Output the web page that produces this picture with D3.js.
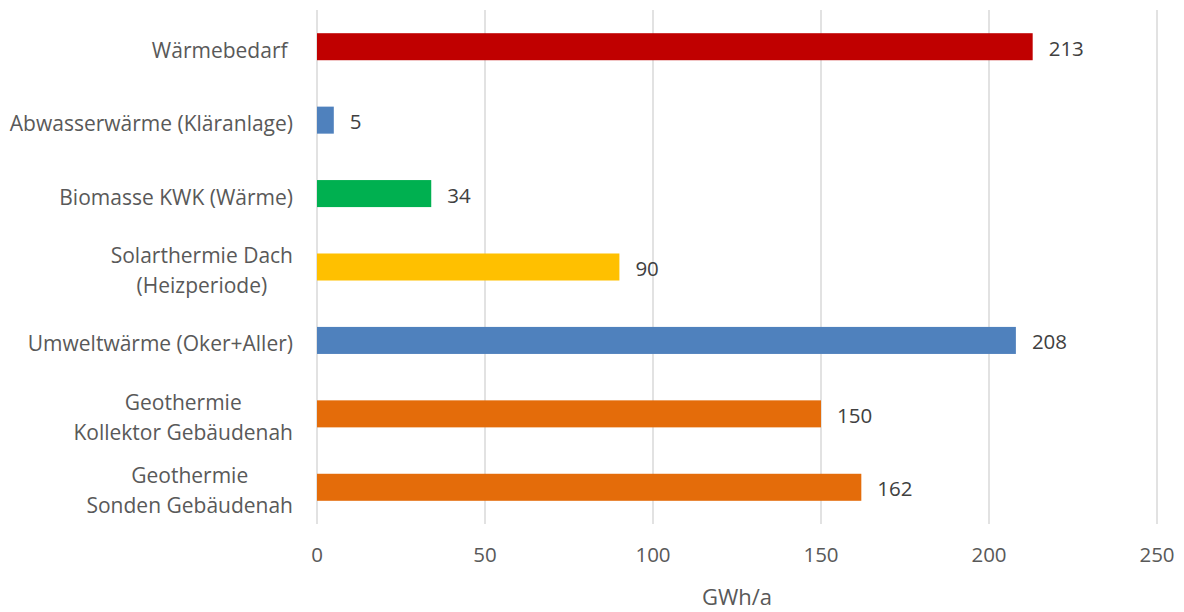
<!DOCTYPE html>
<html>
<head>
<meta charset="utf-8">
<script src="https://cdn.jsdelivr.net/npm/d3@7"></script>
<style>
  html, body { margin: 0; padding: 0; background: #fff; }
  svg { display: block; }
  text { font-family: "Open Sans", "Noto Sans", sans-serif; }
</style>
</head>
<body>
<svg id="chart" width="1184" height="612"></svg>
<script>
// Heat demand and potential heat sources (GWh/a)
const categories = [
  "Wärmebedarf ",
  "Abwasserwärme (Kläranlage)",
  "Biomasse KWK (Wärme)",
  "Solarthermie Dach\n(Heizperiode)",
  "Umweltwärme (Oker+Aller)",
  "Geothermie\nKollektor Gebäudenah",
  "Geothermie\nSonden Gebäudenah"
];
const values = [213, 5, 34, 90, 208, 150, 162];
const barColors = ["#C00000", "#4F81BD", "#00B050", "#FFC000", "#4F81BD", "#E46C0A", "#E46C0A"];
const xTicks = [0, 50, 100, 150, 200, 250];
const xTitle = "GWh/a";

const svg = d3.select("#chart");
const plot = { left: 317, right: 1157, top: 10, bottom: 524 };

const x = d3.scaleLinear().domain([0, 250]).range([plot.left, plot.right]);
const y = d3.scaleBand().domain(d3.range(categories.length))
  .range([plot.top, plot.bottom]).paddingInner(0.632).paddingOuter(0.316);

// vertical gridlines, extending slightly below the plot as tick marks
svg.append("g").selectAll("line").data(xTicks).join("line")
  .attr("x1", d => x(d)).attr("x2", d => x(d))
  .attr("y1", plot.top).attr("y2", plot.bottom)
  .attr("stroke", "#D9D9D9").attr("stroke-width", 1.5);

// bars
svg.append("g").selectAll("rect").data(values).join("rect")
  .attr("x", x(0))
  .attr("y", (d, i) => y(i))
  .attr("width", d => x(d) - x(0))
  .attr("height", y.bandwidth())
  .attr("fill", (d, i) => barColors[i]);

// value labels
svg.append("g").selectAll("text").data(values).join("text")
  .attr("x", d => x(d) + 16)
  .attr("y", (d, i) => y(i) + y.bandwidth() / 2 + 1)
  .attr("dominant-baseline", "central")
  .attr("font-size", 20.5)
  .attr("fill", "#404040")
  .text(d => d);

// category labels (some wrap onto two lines); trailing spaces are kept
const lineH = 30;
const catG = svg.append("g");
categories.forEach((c, i) => {
  const lines = c.split("\n");
  const cy = y(i) + y.bandwidth() / 2 + 3;
  const t = catG.append("text")
    .attr("text-anchor", "middle")
    .attr("font-size", 21)
    .style("white-space", "pre")
    .attr("fill", "#595959");
  lines.forEach((ln, k) => {
    t.append("tspan")
      .attr("y", cy + (k - (lines.length - 1) / 2) * lineH)
      .attr("dominant-baseline", "central")
      .text(ln);
  });
  // right-align block, with each line centred within it
  const widths = [];
  t.selectAll("tspan").each(function () { widths.push(this.getComputedTextLength()); });
  const maxW = d3.max(widths);
  const right = 293;
  t.selectAll("tspan").attr("x", right - maxW / 2);
});

// x tick labels
svg.append("g").selectAll("text").data(xTicks).join("text")
  .attr("x", d => x(d))
  .attr("y", 554)
  .attr("dominant-baseline", "central")
  .attr("text-anchor", "middle")
  .attr("font-size", 20.5)
  .attr("fill", "#595959")
  .text(d => d);

// axis title
svg.append("text")
  .attr("x", (plot.left + plot.right) / 2)
  .attr("y", 596)
  .attr("dominant-baseline", "central")
  .attr("text-anchor", "middle")
  .attr("font-size", 22)
  .attr("fill", "#595959")
  .text(xTitle);
</script>
</body>
</html>
